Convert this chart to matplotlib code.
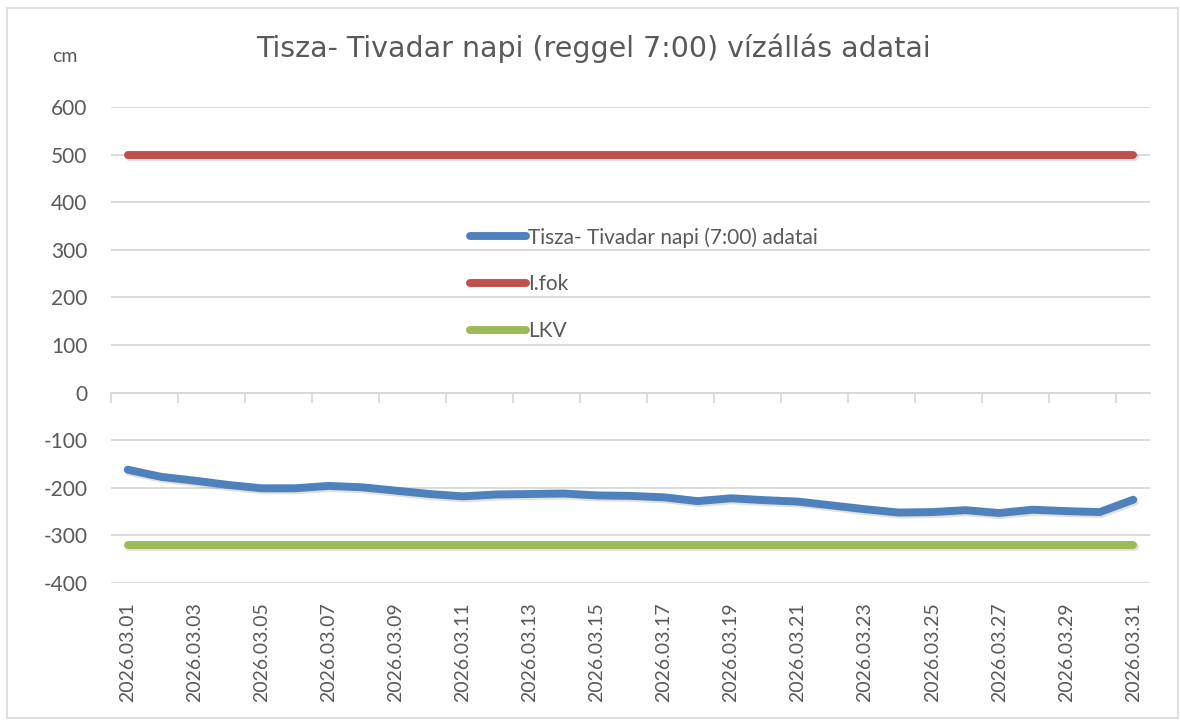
import matplotlib
matplotlib.use("Agg")
import matplotlib.pyplot as plt
import matplotlib.patheffects as pe
import numpy as np

# Tivadar vizallas, 2026 marcius, reggel 7:00 (cm)
days = list(range(1, 32))
dates = [f"2026.03.{d:02d}" for d in days]
water_level = [-162, -177, -185, -194, -201, -201, -196, -199, -206, -213,
               -218, -214, -213, -212, -216, -217, -220, -228, -222, -226,
               -229, -237, -245, -252, -251, -247, -253, -246, -249, -251,
               -225]
i_fok_level = [500] * len(days)
lkv_level = [-320] * len(days)
y_ticks = [600, 500, 400, 300, 200, 100, 0, -100, -200, -300, -400]

plt.rcParams['font.family'] = ['Lato', 'DejaVu Sans']
plt.rcParams['axes.unicode_minus'] = False
text_color = '#595959'
grid_color = '#D9D9D9'

fig = plt.figure(figsize=(11.8, 7.22), dpi=100)
# outer chart border
fig.patches.append(plt.Rectangle((7 / 1180, 4 / 722), 1171 / 1180, 710 / 722,
                                 transform=fig.transFigure, fill=False,
                                 edgecolor=grid_color, linewidth=1.2))

ax = fig.add_axes([111 / 1180, 1 - 583 / 722, 1039 / 1180, 476 / 722])

shadow = [pe.SimpleLineShadow(offset=(1.0, -1.5), alpha=0.12, rho=0.5), pe.Normal()]
line_kw = dict(linewidth=5.7, solid_capstyle='round', solid_joinstyle='round',
               path_effects=shadow)

ax.plot(days, water_level, color='#4F81BD', label='Tisza- Tivadar napi (7:00) adatai',
        zorder=5, **line_kw)
ax.plot(days, i_fok_level, color='#C0504D', label='I.fok', zorder=4, **line_kw)
ax.plot(days, lkv_level, color='#9BBB59', label='LKV', zorder=4, **line_kw)

ax.set_xlim(0.5, 31.5)
ax.set_ylim(-400, 600)
ax.set_yticks(y_ticks)
ax.grid(axis='y', color=grid_color, linewidth=1.3)
ax.set_axisbelow(True)
for s in ax.spines.values():
    s.set_visible(False)

ax.set_xticks(days[::2])
ax.set_xticklabels(dates[::2], rotation=90)
ax.tick_params(axis='x', length=0, pad=14, labelsize=14, labelcolor=text_color)
ax.tick_params(axis='y', length=0, pad=17, labelsize=15, labelcolor=text_color)

# horizontal axis line at 0 with tick marks between categories
sec = ax.secondary_xaxis(0.4)
sec.set_xticks(np.arange(0.5, 31, 2))
sec.tick_params(axis='x', length=7, width=1.3, color=grid_color, labelbottom=False)
sec.spines['bottom'].set_color(grid_color)
sec.spines['bottom'].set_linewidth(1.3)

fig.text(593 / 1180, 1 - 48 / 722, 'Tisza- Tivadar napi (reggel 7:00) vízállás adatai',
         ha='center', va='center', fontsize=20.5, color=text_color,
         family=['DejaVu Sans'])
fig.text(52 / 1180, 1 - 57 / 722, 'cm', ha='left', va='center', fontsize=14,
         color=text_color)

leg = ax.legend(loc='center left', bbox_to_anchor=(470 / 1180, 1 - 284 / 722),
                bbox_transform=fig.transFigure, frameon=False, fontsize=15,
                handlelength=2.7, handletextpad=0.1, labelspacing=1.28,
                borderpad=0, borderaxespad=0)
for t in leg.get_texts():
    t.set_color(text_color)
for h in leg.get_lines():
    h.set_path_effects([])

fig.savefig('out.png', dpi=100)
